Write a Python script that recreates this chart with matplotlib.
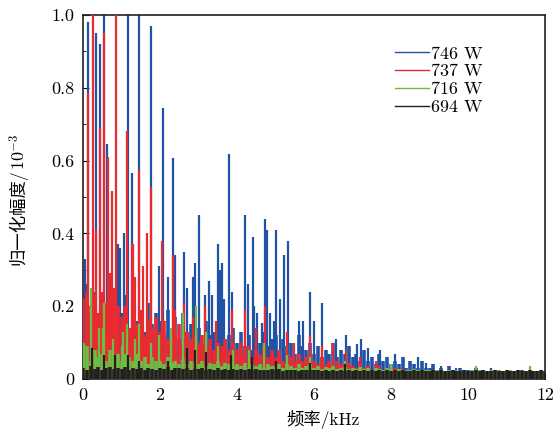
import numpy as np
import matplotlib
matplotlib.use('Agg')
import matplotlib.pyplot as plt
from matplotlib.ticker import MultipleLocator, FuncFormatter

plt.rcParams['font.family'] = ['cmr10', 'Noto Sans CJK SC']
plt.rcParams['mathtext.fontset'] = 'cm'
plt.rcParams['axes.formatter.use_mathtext'] = True

labels = ['746 W', '737 W', '716 W', '694 W']
colors = ['#2052a5', '#ea2a2e', '#6dbd45', '#231f20']

# floor of each spectrum, sampled every 0.1 kHz from 0 to 12 kHz
floor_freq = np.arange(121) * 0.1
floor_746 = [0.20, 0.26, 0.18, 0.24, 0.15, 0.22, 0.19, 0.25, 0.17, 0.21,
             0.18, 0.23, 0.14, 0.20, 0.16, 0.19, 0.13, 0.21, 0.15, 0.18,
             0.16, 0.12, 0.19, 0.14, 0.17, 0.11, 0.18, 0.13, 0.15, 0.12,
             0.14, 0.10, 0.16, 0.12, 0.13, 0.09, 0.15, 0.11, 0.12, 0.14,
             0.10, 0.13, 0.09, 0.12, 0.08, 0.11, 0.10, 0.13, 0.09, 0.11,
             0.12, 0.08, 0.11, 0.09, 0.10, 0.07, 0.12, 0.09, 0.08, 0.10,
             0.07, 0.09, 0.06, 0.08, 0.07, 0.10, 0.06, 0.08, 0.07, 0.09,
             0.06, 0.07, 0.05, 0.08, 0.05, 0.06, 0.04, 0.07, 0.05, 0.06,
             0.04, 0.05, 0.04, 0.06, 0.03, 0.05, 0.04, 0.03, 0.05, 0.03,
             0.03, 0.04, 0.025, 0.03, 0.02, 0.035, 0.025, 0.02, 0.03, 0.02,
             0.025, 0.02, 0.03, 0.02, 0.025, 0.018, 0.022, 0.02, 0.025, 0.018,
             0.02, 0.022, 0.018, 0.02, 0.025, 0.018, 0.02, 0.022, 0.018, 0.02, 0.02]
floor_737 = [0.22, 0.24, 0.20, 0.23, 0.18, 0.24, 0.21, 0.19, 0.23, 0.20,
             0.17, 0.20, 0.14, 0.18, 0.15, 0.19, 0.12, 0.16, 0.14, 0.17,
             0.13, 0.16, 0.11, 0.14, 0.12, 0.15, 0.10, 0.13, 0.11, 0.12,
             0.10, 0.12, 0.09, 0.11, 0.08, 0.10, 0.09, 0.11, 0.08, 0.10,
             0.08, 0.10, 0.07, 0.09, 0.06, 0.08, 0.07, 0.09, 0.06, 0.08,
             0.06, 0.08, 0.05, 0.07, 0.06, 0.05, 0.07, 0.05, 0.06, 0.07,
             0.05, 0.04, 0.06, 0.04, 0.05, 0.035, 0.05, 0.04, 0.035, 0.045,
             0.035, 0.03, 0.04, 0.03, 0.035, 0.025, 0.03, 0.035, 0.025, 0.03,
             0.025, 0.03, 0.02, 0.028, 0.022, 0.025, 0.02, 0.025, 0.022, 0.02,
             0.022, 0.02, 0.025, 0.018, 0.02, 0.022, 0.018, 0.02, 0.019, 0.02,
             0.018, 0.02, 0.017, 0.02, 0.018, 0.019, 0.017, 0.02, 0.018, 0.017,
             0.019, 0.02, 0.018, 0.017, 0.02, 0.018, 0.019, 0.017, 0.02, 0.018, 0.018]
floor_716 = [0.06, 0.09, 0.05, 0.08, 0.06, 0.07, 0.05, 0.08, 0.06, 0.07,
             0.05, 0.07, 0.06, 0.05, 0.07, 0.05, 0.06, 0.04, 0.06, 0.05,
             0.05, 0.04, 0.06, 0.045, 0.05, 0.04, 0.055, 0.04, 0.05, 0.045,
             0.04, 0.05, 0.035, 0.045, 0.04, 0.05, 0.035, 0.045, 0.04, 0.035,
             0.04, 0.035, 0.045, 0.03, 0.04, 0.035, 0.04, 0.03, 0.04, 0.035,
             0.035, 0.04, 0.03, 0.04, 0.035, 0.03, 0.04, 0.03, 0.035, 0.04,
             0.03, 0.035, 0.028, 0.033, 0.03, 0.035, 0.028, 0.03, 0.033, 0.028,
             0.03, 0.027, 0.032, 0.028, 0.03, 0.026, 0.03, 0.028, 0.025, 0.03,
             0.027, 0.025, 0.028, 0.024, 0.026, 0.025, 0.027, 0.024, 0.025, 0.026,
             0.025, 0.023, 0.026, 0.024, 0.022, 0.025, 0.023, 0.024, 0.022, 0.025,
             0.023, 0.024, 0.022, 0.025, 0.023, 0.022, 0.024, 0.023, 0.025, 0.022,
             0.023, 0.024, 0.022, 0.025, 0.023, 0.022, 0.024, 0.023, 0.022, 0.024, 0.023]
floor_694 = [0.03, 0.025, 0.035, 0.028, 0.032, 0.026, 0.03, 0.034, 0.027, 0.03,
             0.028, 0.032, 0.026, 0.03, 0.027, 0.031, 0.025, 0.03, 0.028, 0.026,
             0.03, 0.027, 0.032, 0.026, 0.029, 0.031, 0.027, 0.03, 0.026, 0.028,
             0.027, 0.03, 0.025, 0.028, 0.026, 0.029, 0.025, 0.028, 0.026, 0.027,
             0.026, 0.028, 0.024, 0.027, 0.025, 0.028, 0.024, 0.026, 0.025, 0.027,
             0.025, 0.027, 0.023, 0.026, 0.024, 0.026, 0.023, 0.025, 0.024, 0.026,
             0.024, 0.026, 0.022, 0.025, 0.023, 0.026, 0.022, 0.024, 0.023, 0.025,
             0.023, 0.025, 0.022, 0.024, 0.023, 0.025, 0.022, 0.024, 0.022, 0.025,
             0.023, 0.024, 0.022, 0.025, 0.023, 0.022, 0.024, 0.023, 0.025, 0.022,
             0.023, 0.024, 0.022, 0.025, 0.023, 0.022, 0.024, 0.023, 0.022, 0.024,
             0.023, 0.022, 0.024, 0.023, 0.025, 0.022, 0.023, 0.024, 0.022, 0.023,
             0.024, 0.022, 0.023, 0.025, 0.022, 0.023, 0.024, 0.022, 0.023, 0.024, 0.022]

# spectral peaks (kHz, normalised amplitude x1e-3)
peak_f_746 = [0.04, 0.13, 0.34, 0.44, 0.55, 0.63, 0.91, 0.96, 1.06, 1.16, 1.26, 1.45,
              1.77, 1.97, 2.07, 2.21, 2.35, 2.40, 2.62, 2.71, 2.85, 2.91, 3.01, 3.16,
              3.26, 3.35, 3.50, 3.56, 3.60, 3.66, 3.80, 3.86, 4.21, 4.28, 4.41, 4.45,
              4.52, 4.65, 4.73, 4.77, 4.86, 4.95, 5.00, 5.11, 5.21, 5.32, 5.60, 5.71,
              5.90, 5.99, 6.20, 6.56, 6.82, 7.11, 7.21, 7.41, 7.71, 8.10, 8.71, 8.90,
              9.30, 9.70, 10.2, 10.6, 11.3]
peak_v_746 = [0.33, 0.98, 0.95, 0.92, 1.0, 0.645, 0.37, 0.36, 0.40, 1.0, 0.565, 1.0,
              0.97, 0.31, 0.745, 0.28, 0.607, 0.34, 0.35, 0.25, 0.28, 0.32, 0.45, 0.23,
              0.27, 0.23, 0.37, 0.30, 0.32, 0.22, 0.618, 0.24, 0.45, 0.26, 0.39, 0.20,
              0.18, 0.155, 0.44, 0.41, 0.18, 0.16, 0.41, 0.22, 0.34, 0.38, 0.16, 0.16,
              0.24, 0.16, 0.21, 0.11, 0.12, 0.095, 0.11, 0.085, 0.08, 0.07, 0.06, 0.045,
              0.035, 0.03, 0.03, 0.03, 0.025]
peak_f_737 = [0.13, 0.25, 0.34, 0.44, 0.55, 0.64, 0.70, 0.75, 0.80, 0.85, 1.14, 1.26,
              1.31, 1.36, 1.45, 1.56, 1.66, 1.76, 2.04, 2.33, 2.40, 2.62, 2.85, 3.16,
              3.45, 3.87, 4.20, 4.50, 4.72, 5.30, 5.48, 5.90, 6.20, 6.50, 6.82, 7.20, 7.60]
peak_v_737 = [0.786, 1.0, 0.41, 0.69, 0.95, 0.61, 0.29, 0.516, 0.25, 1.0, 0.68, 0.37,
              0.37, 0.28, 0.574, 0.31, 0.40, 0.527, 0.38, 0.34, 0.19, 0.21, 0.17, 0.20,
              0.16, 0.19, 0.19, 0.14, 0.20, 0.13, 0.10, 0.12, 0.09, 0.10, 0.08, 0.06, 0.05]
peak_f_716 = [0.02, 0.22, 0.42, 0.52, 0.55, 0.79, 1.00, 1.05, 1.15, 1.35, 1.46, 1.77,
              1.98, 2.29, 2.60, 2.93, 3.20, 3.50, 3.90, 4.30, 4.70, 5.30, 5.90, 6.80,
              8.00, 10.2, 11.6]
peak_v_716 = [0.10, 0.25, 0.14, 0.14, 0.21, 0.11, 0.09, 0.13, 0.15, 0.11, 0.15, 0.10,
              0.12, 0.14, 0.18, 0.20, 0.13, 0.09, 0.08, 0.08, 0.10, 0.066, 0.06, 0.05,
              0.04, 0.035, 0.035]
peak_f_694 = [0.24, 0.55, 0.83, 1.16, 1.46, 2.20, 2.71, 2.90, 3.20, 3.85, 4.40, 5.00,
              5.90, 6.80]
peak_v_694 = [0.085, 0.066, 0.065, 0.065, 0.05, 0.05, 0.085, 0.08, 0.075, 0.065, 0.06,
              0.05, 0.045, 0.04]

floors = [floor_746, floor_737, floor_716, floor_694]
peak_fs = [peak_f_746, peak_f_737, peak_f_716, peak_f_694]
peak_vs = [peak_v_746, peak_v_737, peak_v_716, peak_v_694]

fig = plt.figure(figsize=(5.59, 4.33), dpi=100)
ax = fig.add_axes([0.1485, 0.1247, 0.8265, 0.8407])

for i in range(4):
    ax.vlines(floor_freq, 0, floors[i], color=colors[i], lw=2.6, zorder=2 + i)
    ax.vlines(peak_fs[i], 0, peak_vs[i], color=colors[i], lw=1.6, zorder=2 + i)
    ax.plot([], [], color=colors[i], lw=1.0, label=labels[i])

ax.set_xlim(0, 12)
ax.set_ylim(0, 1.0)
ax.xaxis.set_major_locator(MultipleLocator(2))
ax.xaxis.set_minor_locator(MultipleLocator(1))
ax.yaxis.set_major_locator(MultipleLocator(0.2))
ax.yaxis.set_minor_locator(MultipleLocator(0.1))
ax.yaxis.set_major_formatter(FuncFormatter(lambda v, p: '0' if v == 0 else '%.1f' % v))
ax.xaxis.set_major_formatter(FuncFormatter(lambda v, p: '%d' % v))
ax.tick_params(which='both', direction='in', labelsize=13, top=False, right=False)
ax.tick_params(which='major', length=4, pad=6)
ax.tick_params(which='minor', length=2.5)
for s in ax.spines.values():
    s.set_linewidth(1.2)
    s.set_color('#231f20')

ax.set_xlabel('频率/kHz', fontsize=12.5)
ax.xaxis.set_label_coords(0.52, -0.085)

# y label: Chinese part plus a math superscript
t1 = fig.text(0.032, 0.498, '归一化幅度/', rotation=90, ha='center', va='center', fontsize=12.5)
ax.annotate(r'$10^{-3}$', xy=(0.5, 1.0), xycoords=t1, rotation=90,
            ha='center', va='bottom', fontsize=13, annotation_clip=False)

leg = ax.legend(loc='upper right', bbox_to_anchor=(0.88, 0.935), frameon=False, fontsize=13,
                handlelength=1.9, handletextpad=0.1, labelspacing=0.12, borderaxespad=0)

fig.savefig('out.png', dpi=100)
